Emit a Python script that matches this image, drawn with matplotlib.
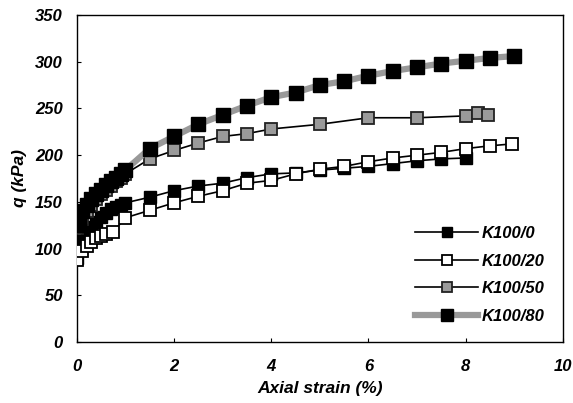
import matplotlib
matplotlib.use("Agg")
import matplotlib.pyplot as plt

plt.rcParams['font.family'] = ['Liberation Sans', 'DejaVu Sans']

# Axial strain (%) and deviator stress q (kPa) for each mix
strain_0 = [0, 0.05, 0.1, 0.2, 0.3, 0.4, 0.5, 0.6, 0.7, 0.8, 0.9, 1.0, 1.5, 2.0, 2.5,
            3.0, 3.5, 4.0, 4.5, 5.0, 5.5, 6.0, 6.5, 7.0, 7.5, 8.0]
q_0 = [90, 100, 108, 116, 123, 129, 134, 138, 142, 145, 147, 149, 155, 162, 167,
       170, 176, 180, 181, 184, 186, 188, 191, 194, 196, 197]

strain_20 = [0, 0.1, 0.2, 0.3, 0.4, 0.5, 0.6, 0.75, 1.0, 1.5, 2.0, 2.5, 3.0, 3.5, 4.0,
             4.5, 5.0, 5.5, 6.0, 6.5, 7.0, 7.5, 8.0, 8.5, 8.95]
q_20 = [88, 97, 103, 107, 111, 114, 116, 118, 133, 141, 149, 156, 162, 170, 173,
        180, 185, 188, 193, 197, 200, 203, 207, 210, 212]

strain_50 = [0, 0.1, 0.2, 0.3, 0.4, 0.5, 0.6, 0.7, 0.8, 0.9, 1.0, 1.5, 2.0, 2.5, 3.0,
             3.5, 4.0, 5.0, 6.0, 7.0, 8.0, 8.25, 8.45]
q_50 = [122, 132, 140, 147, 153, 158, 163, 167, 172, 176, 180, 196, 205, 213, 220,
        223, 228, 233, 240, 240, 242, 245, 243]

strain_80 = [0, 0.05, 0.1, 0.2, 0.3, 0.4, 0.5, 0.6, 0.7, 0.8, 0.9, 1.0, 1.5, 2.0, 2.5,
             3.0, 3.5, 4.0, 4.5, 5.0, 5.5, 6.0, 6.5, 7.0, 7.5, 8.0, 8.5, 9.0]
q_80 = [125, 133, 140, 147, 153, 158, 163, 168, 172, 176, 180, 184, 207, 220, 233,
        243, 253, 262, 267, 275, 279, 285, 290, 294, 298, 301, 304, 306]

x_ticks = [0, 2, 4, 6, 8, 10]
y_ticks = [0, 50, 100, 150, 200, 250, 300, 350]

fig = plt.figure(figsize=(5.73, 4.03), dpi=100)
ax = fig.add_axes([0.134, 0.151, 0.8485, 0.812])

ax.plot(strain_0, q_0, '-s', color='black', lw=1.2, ms=9,
        mfc='black', mec='black', label='K100/0', zorder=3)
ax.plot(strain_20, q_20, '-s', color='black', lw=1.2, ms=8.5,
        mfc='white', mec='black', mew=1.3, label='K100/20', zorder=4)
ax.plot(strain_50, q_50, '-s', color='black', lw=1.2, ms=8.5,
        mfc='#9a9a9a', mec='#222222', mew=1.3, label='K100/50', zorder=3)
ax.plot(strain_80, q_80, '-s', color='#999999', lw=4.5, ms=10,
        mfc='black', mec='black', label='K100/80', zorder=3.5)

ax.set_xlim(0, 10)
ax.set_ylim(0, 350)
ax.set_xticks(x_ticks)
ax.set_yticks(y_ticks)
ax.tick_params(direction='in', length=3, width=0.8, labelsize=12)
ax.tick_params(axis='x', pad=12)
ax.tick_params(axis='y', pad=10)
for lab in ax.get_xticklabels() + ax.get_yticklabels():
    lab.set_fontweight('bold')
    lab.set_fontstyle('italic')
for sp in ax.spines.values():
    sp.set_linewidth(1.0)

ax.set_xlabel('Axial strain (%)', fontsize=12.5, fontweight='bold',
              fontstyle='italic', labelpad=5)
ax.set_ylabel('q (kPa)', fontsize=12.5, fontweight='bold',
              fontstyle='italic', labelpad=6)

leg = ax.legend(loc='lower right', frameon=False, handlelength=3.8,
                labelspacing=0.75, handletextpad=0.2, borderaxespad=0.7,
                markerscale=0.8,
                prop={'weight': 'bold', 'style': 'italic', 'size': 12})

fig.savefig('out.png', dpi=100)
